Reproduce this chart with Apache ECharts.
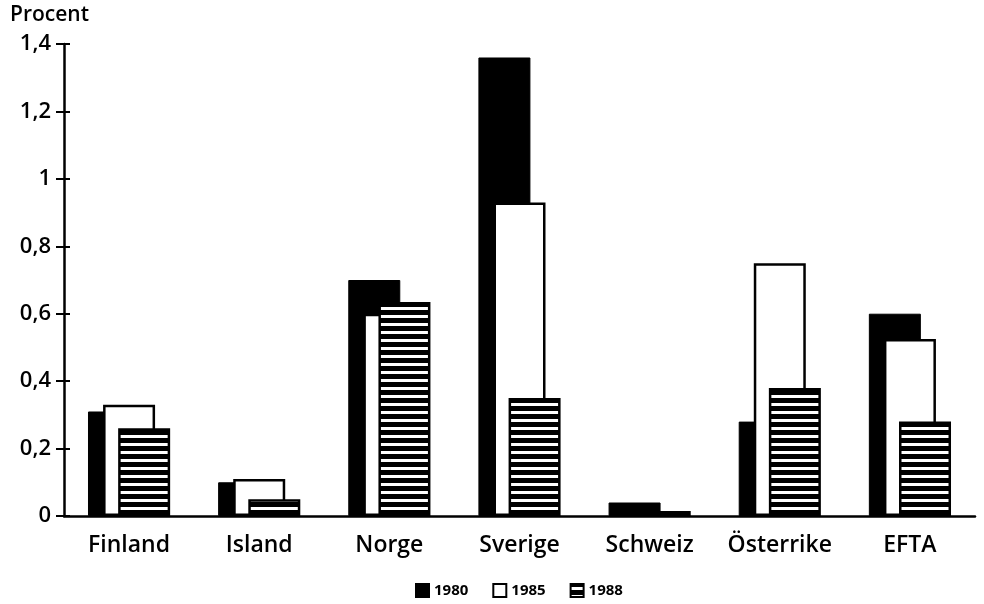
<!DOCTYPE html>
<html>
<head>
<meta charset="utf-8">
<script src="https://cdn.jsdelivr.net/npm/echarts@6/dist/echarts.min.js"></script>
<style>
  html, body { margin: 0; padding: 0; background: #fff; }
  #chart { width: 984px; height: 604px; }
</style>
</head>
<body>
<div id="chart"></div>
<script>
// data
var countries = ['Finland', 'Island', 'Norge', 'Sverige', 'Schweiz', 'Österrike', 'EFTA'];
var years = ['1980', '1985', '1988'];
var v1980 = [0.31, 0.10, 0.70, 1.36, 0.04, 0.28, 0.60];
var v1985 = [0.33, 0.11, 0.60, 0.93, 0.005, 0.75, 0.525];
var v1988 = [0.26, 0.05, 0.635, 0.35, 0.015, 0.38, 0.28];
var yTicks = [0, 0.2, 0.4, 0.6, 0.8, 1, 1.2, 1.4];

var chart = echarts.init(document.getElementById('chart'));

// striped fill for 1988
var stripe = document.createElement('canvas');
stripe.width = 8;
stripe.height = 8;
var ctx = stripe.getContext('2d');
ctx.fillStyle = '#000';
ctx.fillRect(0, 0, 8, 8);
ctx.fillStyle = '#fff';
ctx.fillRect(0, 3, 8, 3);

var font = 'Open Sans';

var option = {
    backgroundColor: '#fff',
    animation: false,
    title: {
        text: 'Procent',
        left: 5,
        top: 0,
        textStyle: { fontFamily: font, fontSize: 21, fontWeight: 600, color: '#000' }
    },
    grid: { left: 64, right: 9, top: 44, bottom: 88 },
    legend: {
        data: years,
        left: 410,
        top: 578,
        itemWidth: 13,
        itemHeight: 13,
        itemGap: 24,
        icon: 'rect',
        textStyle: { fontFamily: font, fontSize: 15, fontWeight: 'bold', color: '#000' }
    },
    xAxis: {
        type: 'category',
        data: countries,
        axisLine: { lineStyle: { color: '#000', width: 2.5 } },
        axisTick: { show: false },
        axisLabel: {
            interval: 0, hideOverlap: false,
            fontFamily: font, fontSize: 23, fontWeight: 600, color: '#000', margin: 18
        }
    },
    yAxis: [{
        type: 'value',
        min: 0,
        max: yTicks[yTicks.length - 1],
        interval: 0.2,
        splitLine: { show: false },
        axisLine: { show: true, lineStyle: { color: '#000', width: 2.5 } },
        axisTick: { show: true, length: 8, lineStyle: { color: '#000', width: 2 } },
        axisLabel: {
            fontFamily: font, fontSize: 22, fontWeight: 600, color: '#000', margin: 13,
            formatter: function (v) { return String(+v.toFixed(1)).replace('.', ','); }
        }
    }, {
        // inner half of the crossing ticks
        type: 'value',
        position: 'left',
        min: 0,
        max: yTicks[yTicks.length - 1],
        interval: 0.2,
        splitLine: { show: false },
        axisLine: { show: false },
        axisTick: { show: true, inside: true, length: 6, lineStyle: { color: '#000', width: 2 } },
        axisLabel: { show: false }
    }],
    series: [{
        name: '1980',
        type: 'bar',
        data: v1980,
        barWidth: 52,
        barGap: '-71%',
        itemStyle: { color: '#000', borderColor: '#000', borderWidth: 1 }
    }, {
        name: '1985',
        type: 'bar',
        data: v1985,
        barWidth: 52,
        barGap: '-71%',
        itemStyle: { color: '#fff', borderColor: '#000', borderWidth: 2.5 }
    }, {
        name: '1988',
        type: 'bar',
        data: v1988,
        barWidth: 52,
        barGap: '-71%',
        itemStyle: { color: { image: stripe, repeat: 'repeat' }, borderColor: '#000', borderWidth: 2.5 }
    }]
};

chart.setOption(option);
</script>
</body>
</html>
